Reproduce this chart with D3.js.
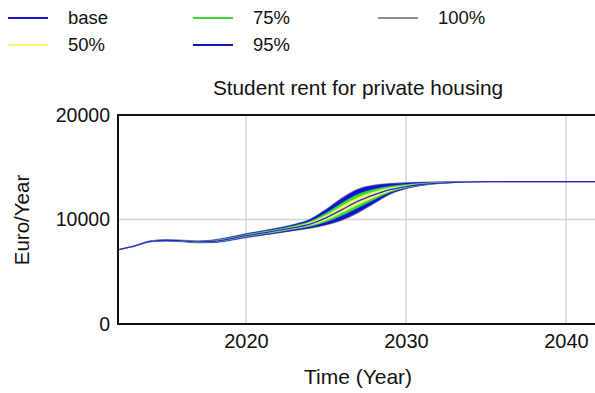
<!DOCTYPE html>
<html>
<head>
<meta charset="utf-8">
<script src="https://cdn.jsdelivr.net/npm/d3@7"></script>
<style>
  html, body { margin: 0; padding: 0; background: #fff; }
  svg { display: block; font-family: "Liberation Sans", Arial, sans-serif; }
</style>
</head>
<body>
<svg id="chart" width="595" height="393"></svg>
<script>
// Simulation time axis (years)
const years = [2012,2013,2014,2015,2016,2017,2018,2019,2020,2021,2022,2023,2024,2025,2026,2027,
  2028,2029,2030,2031,2032,2033,2034,2035,2036,2037,2038,2039,2040,2041,2042];

// Base run of student rent (Euro/Year)
const base = [7100,7450,7900,8010,7950,7860,7920,8150,8450,8700,8950,9220,9560,10150,10950,11750,
  12350,12850,13150,13350,13480,13560,13600,13615,13620,13620,13620,13620,13620,13620,13620];

// Sensitivity envelopes: lower / upper bounds per confidence level
const lo100 = [7100,7430,7850,7930,7870,7760,7780,7980,8250,8480,8700,8930,9150,9450,9900,10600,
  11500,12400,12950,13250,13430,13540,13590,13610,13620,13620,13620,13620,13620,13620,13620];
const hi100 = [7100,7470,7950,8080,8030,7960,8060,8330,8650,8920,9200,9540,10050,11000,12100,12950,
  13320,13460,13530,13580,13610,13620,13625,13628,13620,13620,13620,13620,13620,13620,13620];
const lo95 = [7100,7432,7854,7936,7876,7768,7791,7994,8266,8498,8720,8953,9183,9506,9984,10692,
  11568,12436,12966,13258,13434,13542,13591,13610,13620,13620,13620,13620,13620,13620,13620];
const hi95 = [7100,7468,7946,8074,8024,7952,8049,8316,8634,8902,9180,9515,10010,10930,12010,12860,
  13250,13415,13500,13562,13600,13615,13623,13627,13620,13620,13620,13620,13620,13620,13620];
const lo75 = [7100,7439,7872,7966,7906,7805,7843,8057,8340,8579,8812,9060,9335,9765,10373,11118,
  11883,12603,13040,13295,13453,13549,13595,13612,13620,13620,13620,13620,13620,13620,13620];
const hi75 = [7100,7461,7928,8049,7994,7915,7997,8249,8560,8821,9088,9395,9830,10620,11590,12420,
  12890,13185,13359,13477,13552,13593,13614,13622,13620,13620,13620,13620,13620,13620,13620];
const lo50 = [7100,7444,7885,7986,7926,7830,7878,8099,8390,8634,8875,9133,9437,9940,10635,11405,
  12095,12715,13090,13320,13465,13554,13597,13613,13620,13620,13620,13620,13620,13620,13620];
const hi50 = [7100,7456,7915,8031,7974,7890,7962,8204,8510,8766,9025,9315,9705,10400,11300,12115,
  12645,13035,13264,13419,13519,13578,13608,13619,13620,13620,13620,13620,13620,13620,13620];

const yTicks = [0, 10000, 20000];
const xTicks = [2020, 2030, 2040];

const legendItems = [
  { label: "base", color: "#1a1ad0", col: 0, row: 0 },
  { label: "50%",  color: "#f6f67a", col: 0, row: 1 },
  { label: "75%",  color: "#3ad83a", col: 1, row: 0 },
  { label: "95%",  color: "#1414b4", col: 1, row: 1 },
  { label: "100%", color: "#8a8a8a", col: 2, row: 0 }
];

const bands = [
  { lo: lo100, hi: hi100, color: "#8c8c8c" },
  { lo: lo95,  hi: hi95,  color: "#1010d8" },
  { lo: lo75,  hi: hi75,  color: "#2ee02e" },
  { lo: lo50,  hi: hi50,  color: "#f4f470" }
];

const svg = d3.select("#chart");
const plot = { left: 118, top: 115, right: 598, bottom: 324 };

const x = d3.scaleLinear().domain([2012, 2042]).range([plot.left, plot.right]);
const y = d3.scaleLinear().domain([0, 20000]).range([plot.bottom, plot.top]);

// Legend
const legCols = [8, 193, 378];
const legRows = [18, 45];
const leg = svg.append("g");
legendItems.forEach(d => {
  const lx = legCols[d.col], ly = legRows[d.row];
  leg.append("line").attr("x1", lx).attr("x2", lx + 40).attr("y1", ly).attr("y2", ly)
    .attr("stroke", d.color).attr("stroke-width", 2);
  leg.append("text").attr("x", lx + 60).attr("y", ly).attr("dy", "0.35em")
    .attr("font-size", 18.5).attr("fill", "#111").text(d.label);
});

// Title
svg.append("text").attr("x", (plot.left + plot.right) / 2).attr("y", 88).attr("dy", "0.35em")
  .attr("text-anchor", "middle").attr("font-size", 20.8).attr("fill", "#111")
  .text("Student rent for private housing");

// Grid
const grid = svg.append("g").attr("stroke", "#d4d4d4").attr("stroke-width", 1.5);
yTicks.filter(t => t > 0 && t < 20000).forEach(t => {
  grid.append("line").attr("x1", plot.left).attr("x2", plot.right).attr("y1", y(t)).attr("y2", y(t));
});
xTicks.forEach(t => {
  grid.append("line").attr("x1", x(t)).attr("x2", x(t)).attr("y1", plot.top).attr("y2", plot.bottom);
});

// Sensitivity bands
svg.append("clipPath").attr("id", "plotclip").append("rect")
  .attr("x", plot.left).attr("y", plot.top).attr("width", plot.right - plot.left).attr("height", plot.bottom - plot.top);
const area = d3.area()
  .x((d, i) => x(years[i]))
  .y0(d => y(d[0])).y1(d => y(d[1]))
  .curve(d3.curveMonotoneX);
const bandG = svg.append("g").attr("clip-path", "url(#plotclip)");
bands.forEach(b => {
  bandG.append("path")
    .datum(b.lo.map((v, i) => [v, b.hi[i]]))
    .attr("d", area)
    .attr("fill", b.color)
    .attr("stroke", b.color).attr("stroke-width", 0.4);
});

// Base run
const line = d3.line().x((d, i) => x(years[i])).y(d => y(d)).curve(d3.curveMonotoneX);
bandG.append("path").datum(base).attr("d", line)
  .attr("fill", "none").attr("stroke", "#2626dc").attr("stroke-width", 1.3);

// Axes frame
const axisG = svg.append("g").attr("stroke", "#111").attr("stroke-width", 2).attr("fill", "none");
axisG.append("path")
  .attr("d", `M${plot.right},${plot.top}H${plot.left}V${plot.bottom}H${plot.right}`);

// Y tick labels
const yAxis = d3.axisLeft(y).tickValues(yTicks).tickSize(0).tickPadding(8).tickFormat(d3.format("d"));
const yg = svg.append("g").attr("transform", `translate(${plot.left},0)`).call(yAxis);
yg.select(".domain").remove();
yg.selectAll("text").attr("font-size", 19.5).attr("fill", "#111").attr("font-family", "Liberation Sans, Arial, sans-serif");

// X tick labels
const xAxis = d3.axisBottom(x).tickValues(xTicks).tickSize(0).tickPadding(10).tickFormat(d3.format("d"));
const xg = svg.append("g").attr("transform", `translate(0,${plot.bottom})`).call(xAxis);
xg.select(".domain").remove();
xg.selectAll("text").attr("font-size", 20).attr("fill", "#111").attr("font-family", "Liberation Sans, Arial, sans-serif");

// Axis titles
svg.append("text").attr("x", (plot.left + plot.right) / 2).attr("y", 377).attr("dy", "0.35em")
  .attr("text-anchor", "middle").attr("font-size", 21).attr("fill", "#111").text("Time (Year)");
svg.append("text").attr("transform", "translate(22,220) rotate(-90)").attr("dy", "0.35em")
  .attr("text-anchor", "middle").attr("font-size", 20.5).attr("fill", "#111").text("Euro/Year");
</script>
</body>
</html>
